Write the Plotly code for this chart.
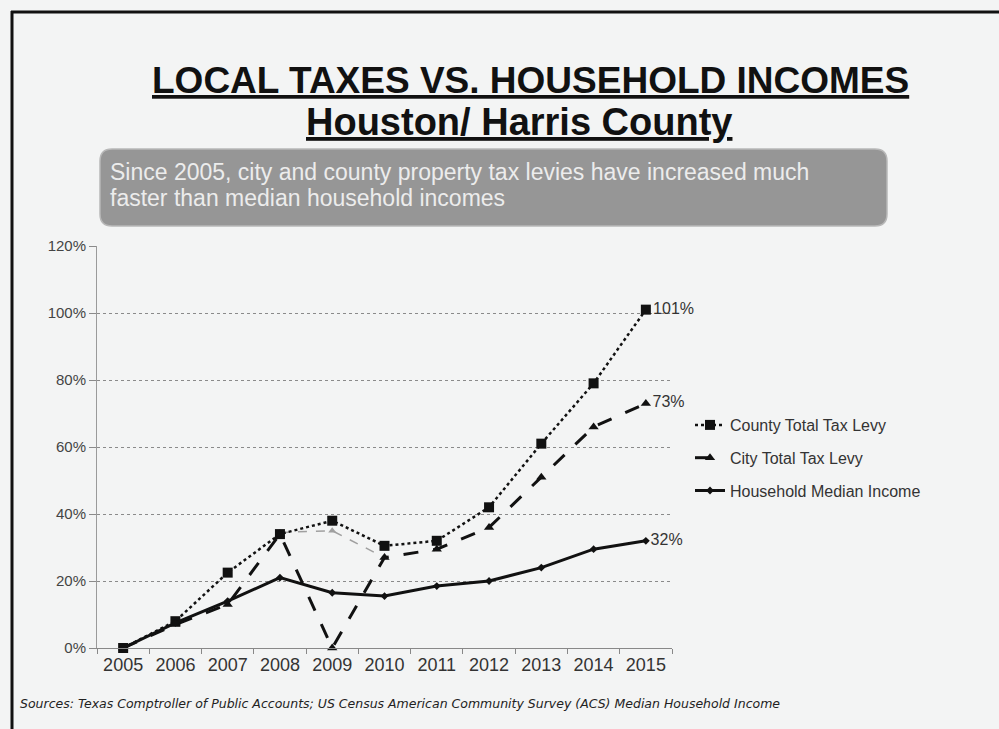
import plotly.graph_objects as go

years = ["2005", "2006", "2007", "2008", "2009", "2010", "2011", "2012", "2013", "2014", "2015"]
county = [0, 8, 22.5, 34, 38, 30.5, 32, 42, 61, 79, 101]
city = [0, 7, 13, 34, 0, 27, 29.5, 36, 51, 66, 73]
income = [0, 7.5, 14, 21, 16.5, 15.5, 18.5, 20, 24, 29.5, 32]
# faint grey ghost segment of the city series visible in the picture
ghost_years = ["2008", "2009", "2010"]
ghost_city = [34.5, 35, 27]
ytick_vals = [0, 20, 40, 60, 80, 100, 120]
ytick_text = ["0%", "20%", "40%", "60%", "80%", "100%", "120%"]

W, H = 999, 729
L, R, T, B = 97, 672, 246, 648

FONT = "Liberation Sans, Arial, sans-serif"


def px(x):
    return (x - L) / (R - L)


def py(y):
    return (B - y) / (B - T)


def end_label(vals):
    return [""] * (len(vals) - 1) + [f"{vals[-1]:.0f}%"]


fig = go.Figure()
fig.add_trace(go.Scatter(
    x=ghost_years, y=ghost_city, mode="lines+markers", showlegend=False,
    line=dict(color="#a0a0a0", width=1.5, dash="dash"),
    marker=dict(symbol="triangle-up", size=7, color="#a0a0a0"), hoverinfo="skip"))
fig.add_trace(go.Scatter(
    x=years, y=county, name="County Total Tax Levy", mode="lines+markers+text",
    legendgroup="a",
    line=dict(color="#111111", width=2.5, dash="dot"),
    marker=dict(symbol="square", size=10, color="#111111"),
    text=end_label(county), textposition="middle right", cliponaxis=False,
    textfont=dict(family=FONT, size=16, color="#333333")))
fig.add_trace(go.Scatter(
    x=years, y=city, name="City Total Tax Levy", mode="lines+markers+text",
    legendgroup="b",
    line=dict(color="#111111", width=3, dash="longdash"),
    marker=dict(symbol="triangle-up", size=9, color="#111111"),
    text=end_label(city), textposition="middle right", cliponaxis=False,
    textfont=dict(family=FONT, size=16, color="#333333")))
fig.add_trace(go.Scatter(
    x=years, y=income, name="Household Median Income", mode="lines+markers+text",
    legendgroup="c",
    line=dict(color="#111111", width=3),
    marker=dict(symbol="diamond", size=6, color="#111111"),
    text=end_label(income), textposition="middle right", cliponaxis=False,
    textfont=dict(family=FONT, size=16, color="#333333")))

shapes = []
# slide border lines
shapes.append(dict(type="line", xref="paper", yref="paper", x0=px(11), x1=px(999), y0=py(12), y1=py(12),
                   line=dict(color="#111111", width=3)))
shapes.append(dict(type="line", xref="paper", yref="paper", x0=px(12), x1=px(12), y0=py(11), y1=py(729),
                   line=dict(color="#111111", width=3)))
# rounded grey callout box
bx0, bx1, by0, by1, rr = 100, 887, 149, 226, 12
path = (f"M {px(bx0 + rr)},{py(by0)} L {px(bx1 - rr)},{py(by0)} "
        f"Q {px(bx1)},{py(by0)} {px(bx1)},{py(by0 + rr)} L {px(bx1)},{py(by1 - rr)} "
        f"Q {px(bx1)},{py(by1)} {px(bx1 - rr)},{py(by1)} L {px(bx0 + rr)},{py(by1)} "
        f"Q {px(bx0)},{py(by1)} {px(bx0)},{py(by1 - rr)} L {px(bx0)},{py(by0 + rr)} "
        f"Q {px(bx0)},{py(by0)} {px(bx0 + rr)},{py(by0)} Z")
shapes.append(dict(type="path", xref="paper", yref="paper", path=path,
                   fillcolor="#969696", line=dict(color="#b8b8b8", width=1.5)))

annotations = [
    dict(text="<b><u>LOCAL TAXES VS. HOUSEHOLD INCOMES</u></b>", x=px(530), y=py(80),
         xref="paper", yref="paper", showarrow=False, xanchor="center", yanchor="middle",
         font=dict(family=FONT, size=37, color="#111111")),
    dict(text="<b><u>Houston/ Harris County</u></b>", x=px(519), y=py(122),
         xref="paper", yref="paper", showarrow=False, xanchor="center", yanchor="middle",
         font=dict(family=FONT, size=38, color="#111111")),
    dict(text="Since 2005, city and county property tax levies have increased much",
         x=px(108), y=py(172), xref="paper", yref="paper", showarrow=False, xanchor="left", yanchor="middle",
         font=dict(family=FONT, size=23, color="#ececec")),
    dict(text="faster than median household incomes",
         x=px(108), y=py(198), xref="paper", yref="paper", showarrow=False, xanchor="left", yanchor="middle",
         font=dict(family=FONT, size=23, color="#ececec")),
    dict(text="<i>Sources: Texas Comptroller of Public Accounts; US Census American Community Survey (ACS) Median Household Income</i>",
         x=px(18), y=py(703), xref="paper", yref="paper", showarrow=False, xanchor="left", yanchor="middle",
         font=dict(family="DejaVu Sans, sans-serif", size=12.5, color="#222222")),
]

fig.update_layout(
    width=W, height=H,
    margin=dict(l=L, r=W - R, t=T, b=H - B, pad=0),
    paper_bgcolor="#f3f4f4", plot_bgcolor="#f3f4f4",
    shapes=shapes, annotations=annotations,
    showlegend=True,
    legend=dict(x=px(690), y=py(408), xanchor="left", yanchor="top", bgcolor="rgba(0,0,0,0)",
                font=dict(family=FONT, size=16, color="#333333"),
                itemwidth=30, tracegroupgap=9, traceorder="grouped"),
    xaxis=dict(type="category", categoryorder="array", categoryarray=years,
               tickson="boundaries", ticks="outside", ticklen=5, tickcolor="#888888",
               showline=True, linecolor="#888888", linewidth=1, showgrid=False,
               tickfont=dict(family=FONT, size=18, color="#333333"),
               range=[-0.5, 10.5], zeroline=False),
    yaxis=dict(range=[0, 120], tickvals=ytick_vals, ticktext=ytick_text,
               showgrid=True, gridcolor="#8a8a8a", griddash="dot", gridwidth=1,
               ticks="outside", ticklen=7, tickcolor="#8a8a8a",
               showline=True, linecolor="#9a9a9a", linewidth=1, zeroline=False,
               tickfont=dict(family=FONT, size=15, color="#444444")),
)

fig.write_html("out.html", config={"displayModeBar": False},
               post_script="document.body.style.margin='0px';")
